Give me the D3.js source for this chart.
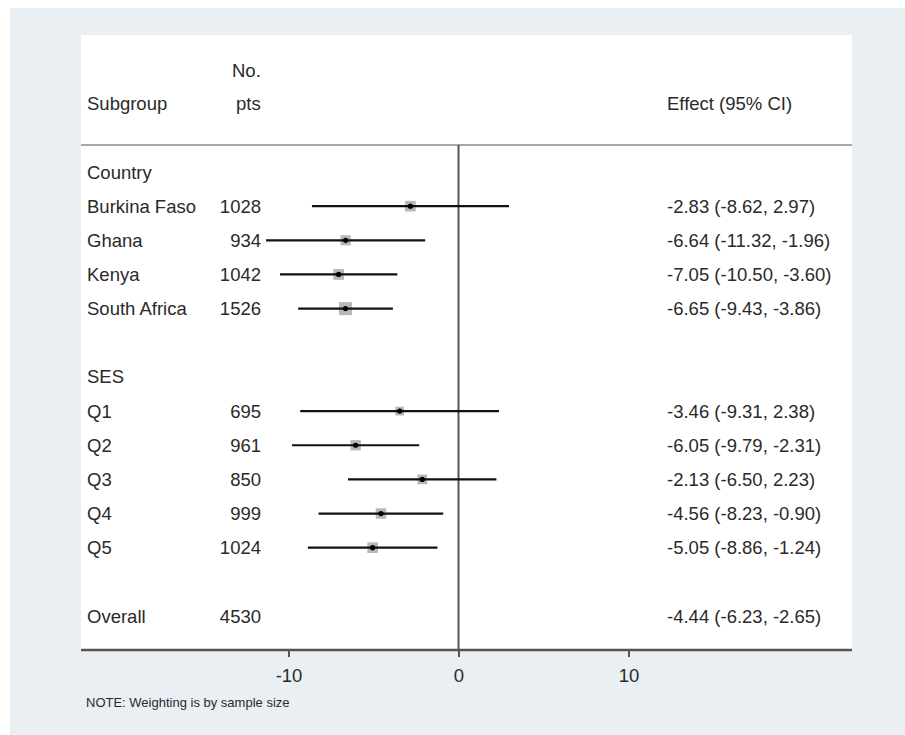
<!DOCTYPE html>
<html>
<head>
<meta charset="utf-8">
<script src="https://cdn.jsdelivr.net/npm/d3@7"></script>
<style>
  html, body { margin: 0; padding: 0; background: #ffffff; }
  svg { display: block; font-family: Arial, "Liberation Sans", sans-serif; }
</style>
</head>
<body>
<svg id="chart" width="905" height="735"></svg>
<script>
// ---- Data ----
const rowLabels = ["Country", "Burkina Faso", "Ghana", "Kenya", "South Africa", "",
                   "SES", "Q1", "Q2", "Q3", "Q4", "Q5", "", "Overall"];
const nPts   = [null, 1028, 934, 1042, 1526, null, null, 695, 961, 850, 999, 1024, null, 4530];
const effect = [null, -2.83, -6.64, -7.05, -6.65, null, null, -3.46, -6.05, -2.13, -4.56, -5.05, null, -4.44];
const lower  = [null, -8.62, -11.32, -10.50, -9.43, null, null, -9.31, -9.79, -6.50, -8.23, -8.86, null, -6.23];
const upper  = [null, 2.97, -1.96, -3.60, -3.86, null, null, 2.38, -2.31, 2.23, -0.90, -1.24, null, -2.65];
const showMarker = [false, true, true, true, true, false, false, true, true, true, true, true, false, false];
const xTicks = [-10, 0, 10];
const noteText = "NOTE: Weighting is by sample size";

// ---- Layout ----
const svg = d3.select("#chart");
const panel = { left: 81, right: 852, top: 35, bottom: 650 };
const headerLineY = 145;

const x = d3.scaleLinear().domain([-10, 10]).range([288.5, 628.5]);
const y = d3.scaleLinear().domain([0, 13]).range([172, 616]);
const side = d3.scaleSqrt().domain([0, 1526]).range([0, 13]);

// backgrounds
svg.append("rect").attr("x", 10).attr("y", 8).attr("width", 895).attr("height", 727).attr("fill", "#e9eff3");
svg.append("rect").attr("x", panel.left).attr("y", panel.top)
  .attr("width", panel.right - panel.left).attr("height", panel.bottom - panel.top).attr("fill", "#ffffff");

const fs = 18.5;
const txtColor = "#2a2a2a";
const txt = (xx, yy, s, anchor, size) => svg.append("text")
  .attr("x", xx).attr("y", yy).attr("text-anchor", anchor || "start")
  .attr("font-size", size || fs).attr("fill", txtColor).text(s);

// header
txt(232, 77, "No.");
txt(87, 110, "Subgroup");
txt(236, 110, "pts");
txt(667, 110, "Effect (95% CI)");

// header separator
svg.append("line").attr("x1", panel.left).attr("x2", panel.right)
  .attr("y1", headerLineY).attr("y2", headerLineY)
  .attr("stroke", "#a8a8a8").attr("stroke-width", 2);

// zero line
svg.append("line").attr("x1", x(0)).attr("x2", x(0))
  .attr("y1", headerLineY).attr("y2", panel.bottom)
  .attr("stroke", "#555").attr("stroke-width", 2);

// rows
rowLabels.forEach((lab, i) => {
  const cy = y(i);
  if (lab) txt(87, cy + 6.5, lab);
  if (nPts[i] != null) txt(261, cy + 6.5, String(nPts[i]), "end");
  if (effect[i] != null) {
    txt(667, cy + 6.5, `${effect[i].toFixed(2)} (${lower[i].toFixed(2)}, ${upper[i].toFixed(2)})`);
  }
  if (showMarker[i]) {
    const s = side(nPts[i]);
    svg.append("rect").attr("x", x(effect[i]) - s / 2).attr("y", cy - s / 2)
      .attr("width", s).attr("height", s).attr("fill", "#b8b8b8");
    svg.append("line").attr("x1", x(lower[i])).attr("x2", x(upper[i]))
      .attr("y1", cy).attr("y2", cy).attr("stroke", "#111").attr("stroke-width", 2.2);
    svg.append("circle").attr("cx", x(effect[i])).attr("cy", cy).attr("r", 2.6).attr("fill", "#000");
  }
});

// x axis
const axis = svg.append("g").attr("transform", `translate(0,${panel.bottom})`)
  .call(d3.axisBottom(x).tickValues(xTicks).tickSize(7).tickPadding(12).tickFormat(d3.format("d")));
axis.select(".domain").remove();
axis.selectAll(".tick line").attr("stroke", "#555").attr("stroke-width", 2);
axis.selectAll(".tick text").attr("font-size", 18.5).attr("fill", txtColor)
  .attr("font-family", "Arial, 'Liberation Sans', sans-serif").text(d => d < 0 ? "-" + Math.abs(d) : d);
svg.append("line").attr("x1", panel.left).attr("x2", panel.right)
  .attr("y1", panel.bottom).attr("y2", panel.bottom)
  .attr("stroke", "#555").attr("stroke-width", 2.5);

// note
txt(86, 707, noteText, "start", 13);
</script>
</body>
</html>
